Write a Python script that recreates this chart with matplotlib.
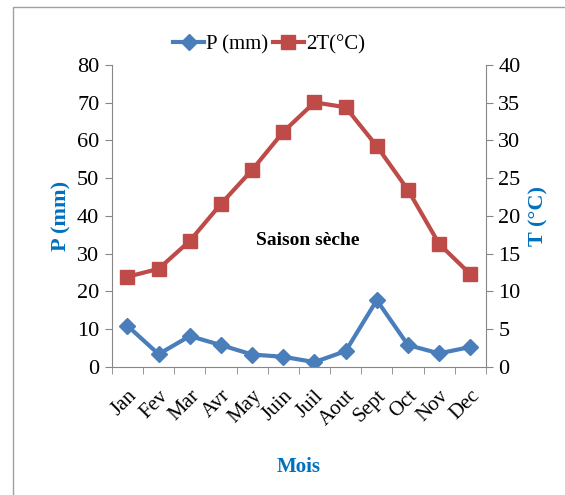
import numpy as np
import matplotlib
matplotlib.use('Agg')
import matplotlib.pyplot as plt
from matplotlib.patches import Rectangle

plt.rcParams['font.family'] = ['Liberation Serif', 'DejaVu Serif']

mois = ['Jan', 'Fev', 'Mar', 'Avr', 'May', 'Juin', 'Juil', 'Aout', 'Sept', 'Oct', 'Nov', 'Dec']
pluie = [10.9, 3.4, 8.2, 5.8, 3.3, 2.7, 1.3, 4.2, 17.7, 5.8, 3.6, 5.3]
temp2 = [23.9, 26.0, 33.4, 43.2, 52.2, 62.3, 70.1, 68.8, 58.5, 46.9, 32.6, 24.6]

bleu = '#4A7EBB'
rouge = '#BE4B48'
titre = '#0070C0'
gris = '#868686'

fig = plt.figure(figsize=(5.65, 4.95), dpi=100)
fig.patches.append(Rectangle((13 / 565, -0.1), 1.2, 1 - 7 / 495 + 0.1, transform=fig.transFigure,
                             fill=False, edgecolor='#A0A0A0', linewidth=1.0))
ax = fig.add_axes([0.198, 0.2586, 0.662, 0.6101])
x = np.arange(len(mois))

ax.plot(x, pluie, color=bleu, linewidth=3, marker='D', markersize=8, label='P (mm)')
ax.plot(x, temp2, color=rouge, linewidth=3, marker='s', markersize=10, label='2T(°C)')

ax.set_xlim(-0.5, 11.5)
ax.set_ylim(0, 80)
ax.set_yticks(np.arange(0, 81, 10))
ax.set_xticks(x)
ax.set_xticklabels(mois, rotation=45, ha='right', va='top', rotation_mode='anchor', fontsize=15)
ax.tick_params(axis='x', which='major', length=0, pad=14)
ax.set_xticks(np.arange(-0.5, 12, 1), minor=True)
ax.tick_params(axis='x', which='minor', length=5, color=gris, direction='out')
ax.tick_params(axis='y', labelsize=16, length=5, color=gris, pad=4)
for s in ['top', 'right']:
    ax.spines[s].set_visible(False)
for s in ['left', 'bottom']:
    ax.spines[s].set_color(gris)

ax2 = ax.twinx()
ax2.set_ylim(0, 40)
ax2.set_yticks(np.arange(0, 41, 5))
ax2.tick_params(axis='y', labelsize=16, length=5, color=gris, pad=4)
for s in ['top', 'left', 'bottom']:
    ax2.spines[s].set_visible(False)
ax2.spines['right'].set_color(gris)

ax.set_ylabel('P (mm)', fontsize=16, fontweight='bold', color=titre, labelpad=4)
ax2.set_ylabel('T (°C)', fontsize=16, fontweight='bold', color=titre, rotation=90, labelpad=6)
ax.set_xlabel('Mois', fontsize=15, fontweight='bold', color=titre, labelpad=20)

ax.text(5.8, 33.4, 'Saison sèche', fontsize=14, fontweight='bold', ha='center', va='center')

ax.legend(loc='lower center', bbox_to_anchor=(0.42, 1.0), ncol=2, frameon=False,
          fontsize=15, handlelength=1.5, handletextpad=0.1, columnspacing=0.2,
          borderaxespad=0.1)

fig.savefig('out.png', dpi=100)
